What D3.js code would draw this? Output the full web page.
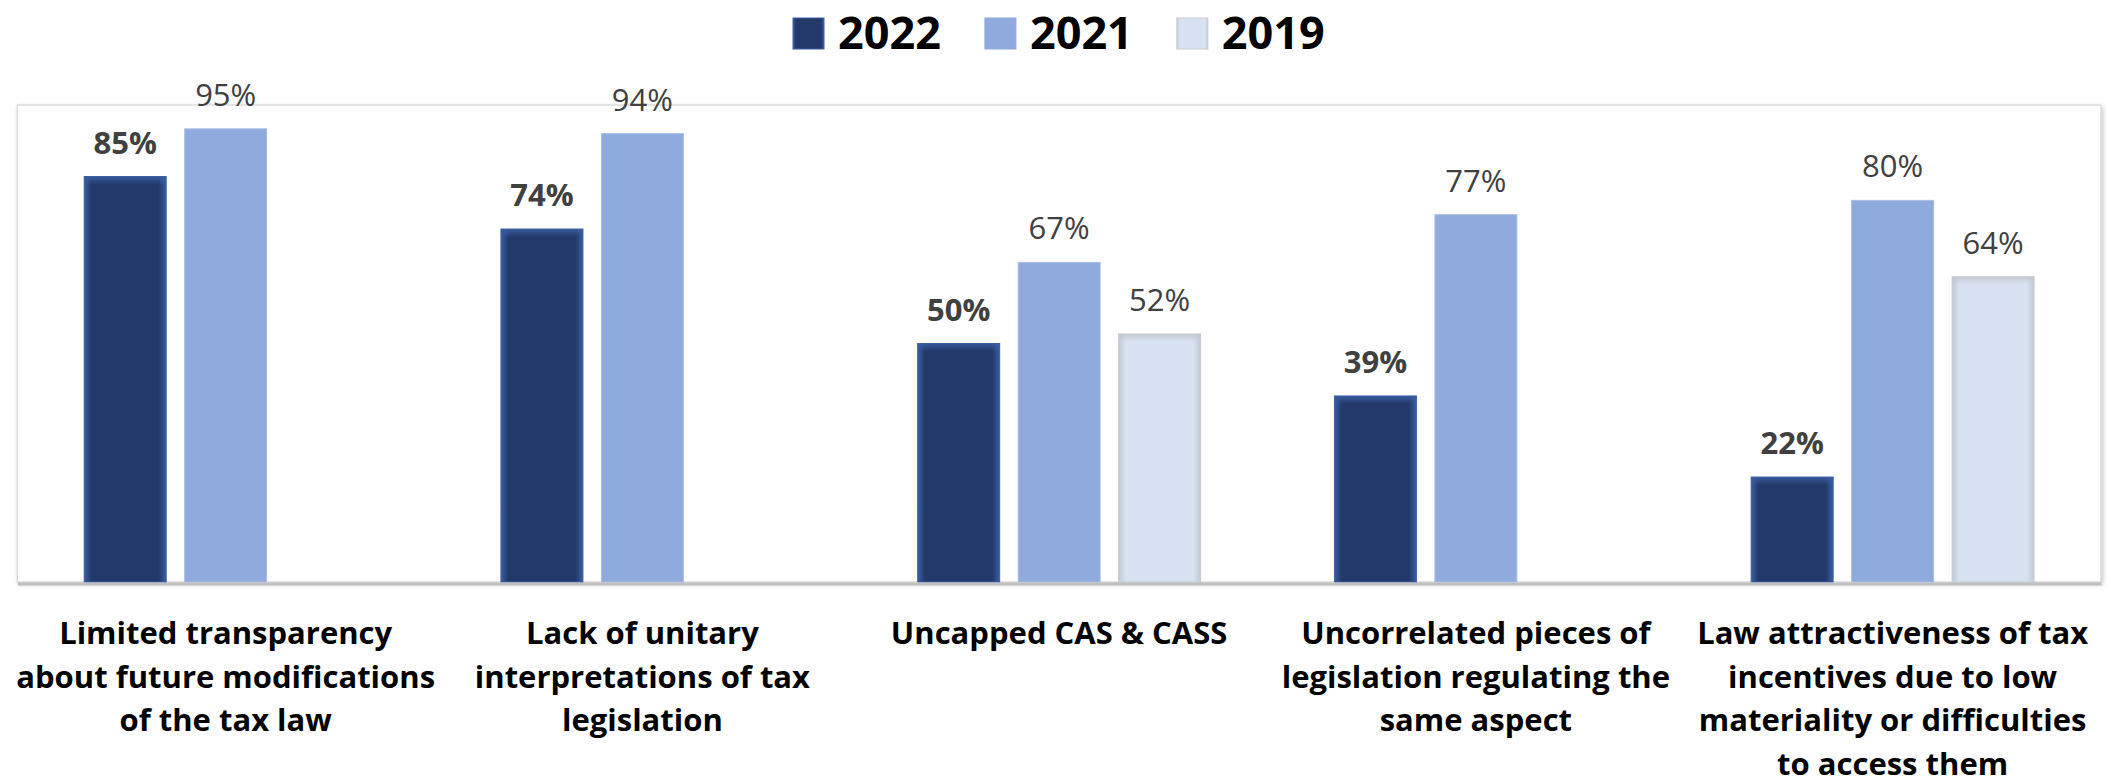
<!DOCTYPE html>
<html>
<head>
<meta charset="utf-8">
<script src="https://cdn.jsdelivr.net/npm/d3@7"></script>
<style>
  html, body { margin: 0; padding: 0; background: #ffffff; }
  svg { display: block; }
</style>
</head>
<body>
<div id="chart"></div>
<script>
// ---- Data ----
const categories = [
  "Limited transparency\nabout future modifications\nof the tax law",
  "Lack of unitary\ninterpretations of tax\nlegislation",
  "Uncapped CAS & CASS",
  "Uncorrelated pieces of\nlegislation regulating the\nsame aspect",
  "Law attractiveness of tax\nincentives due to low\nmateriality or difficulties\nto access them"
];
const seriesNames = ["2022", "2021", "2019"];
const values2022 = [85, 74, 50, 39, 22];
const values2021 = [95, 94, 67, 77, 80];
const values2019 = [null, null, 52, null, 64];
const yTicks = [0, 100];

// ---- Layout ----
const W = 2108, H = 784;
const plot = { left: 17.3, right: 2101, top: 105, bottom: 582 };

const svg = d3.select("#chart").append("svg").attr("width", W).attr("height", H);
const defs = svg.append("defs");

function hGrad(id, edge, mid) {
  const g = defs.append("linearGradient").attr("id", id).attr("x1", "0").attr("x2", "1").attr("y1", "0").attr("y2", "0");
  g.append("stop").attr("offset", "0%").attr("stop-color", edge);
  g.append("stop").attr("offset", "9%").attr("stop-color", mid);
  g.append("stop").attr("offset", "91%").attr("stop-color", mid);
  g.append("stop").attr("offset", "100%").attr("stop-color", edge);
}
function vGrad(id, edge) {
  const g = defs.append("linearGradient").attr("id", id).attr("x1", "0").attr("x2", "0").attr("y1", "0").attr("y2", "1");
  g.append("stop").attr("offset", "0%").attr("stop-color", edge).attr("stop-opacity", 0.9);
  g.append("stop").attr("offset", "100%").attr("stop-color", edge).attr("stop-opacity", 0);
}
hGrad("g2022", "#3a5ea3", "#22396a");
hGrad("g2019", "#c3c8d2", "#d9e2f2");
vGrad("t2022", "#3a5ea3");
vGrad("t2019", "#c3c8d2");

const shadow = defs.append("filter").attr("id", "shadow").attr("x", "-5%").attr("y", "-5%").attr("width", "110%").attr("height", "110%");
shadow.append("feDropShadow").attr("dx", 1.5).attr("dy", 2).attr("stdDeviation", 2).attr("flood-color", "#000").attr("flood-opacity", 0.22);

const fills = { "2022": "url(#g2022)", "2021": "#8faadc", "2019": "url(#g2019)" };
const topFills = { "2022": "url(#t2022)", "2021": null, "2019": "url(#t2019)" };

// ---- Scales ----
const x0 = d3.scaleBand().domain(d3.range(categories.length)).range([plot.left, plot.right]).padding(0);
const x1 = d3.scaleBand().domain(seriesNames).range([0, x0.bandwidth()]).paddingInner(0.184).paddingOuter(0.666);
const y = d3.scaleLinear().domain(d3.extent(yTicks)).range([plot.bottom, plot.top]);

// ---- Plot area frame ----
svg.append("rect")
  .attr("x", plot.left).attr("y", plot.top)
  .attr("width", plot.right - plot.left).attr("height", plot.bottom - plot.top)
  .attr("fill", "#ffffff").attr("stroke", "#d4d4d4").attr("stroke-width", 1.2)
  .attr("filter", "url(#shadow)");

// ---- Bars ----
const rows = [];
categories.forEach((c, i) => {
  [values2022, values2021, values2019].forEach((arr, k) => {
    if (arr[i] != null) rows.push({ ci: i, s: seriesNames[k], v: arr[i] });
  });
});

const barG = svg.append("g");
barG.selectAll("rect.bar").data(rows).join("rect")
  .attr("class", "bar")
  .attr("x", d => x0(d.ci) + x1(d.s))
  .attr("y", d => y(d.v))
  .attr("width", x1.bandwidth())
  .attr("height", d => y(0) - y(d.v))
  .attr("fill", d => fills[d.s])
  .attr("stroke", d => d.s === "2021" ? "#a9bde6" : (d.s === "2022" ? "#3b5fa5" : "#c8ccd4"))
  .attr("stroke-width", 1);

barG.selectAll("rect.topglow").data(rows.filter(d => topFills[d.s])).join("rect")
  .attr("class", "topglow")
  .attr("x", d => x0(d.ci) + x1(d.s))
  .attr("y", d => y(d.v))
  .attr("width", x1.bandwidth())
  .attr("height", 8)
  .attr("fill", d => topFills[d.s]);

// ---- Axis line (bottom) ----
const xAxis = d3.axisBottom(x0).tickSize(0).tickFormat("");
const axG = svg.append("g").attr("transform", `translate(0,${plot.bottom + 1.5})`).call(xAxis);
axG.select(".domain").attr("stroke", "#bfbfbf").attr("stroke-width", 3);

// ---- Value labels ----
svg.append("g").selectAll("text").data(rows).join("text")
  .attr("x", d => x0(d.ci) + x1(d.s) + x1.bandwidth() / 2)
  .attr("y", d => y(d.v) - 23)
  .attr("text-anchor", "middle")
  .attr("font-family", "'Open Sans', sans-serif")
  .attr("font-size", 31)
  .attr("font-weight", d => d.s === "2022" ? 700 : 400)
  .attr("fill", "#404040")
  .text(d => d.v + "%");

// ---- Category labels ----
const catG = svg.append("g");
categories.forEach((c, i) => {
  const t = catG.append("text")
    .attr("x", x0(i) + x0.bandwidth() / 2)
    .attr("y", 644)
    .attr("text-anchor", "middle")
    .attr("font-family", "'Open Sans', sans-serif")
    .attr("font-size", 31)
    .attr("font-weight", 700)
    .attr("fill", "#000000");
  c.split("\n").forEach((line, j) => {
    t.append("tspan").attr("x", x0(i) + x0.bandwidth() / 2).attr("y", 644 + j * 43.7).text(line);
  });
});

// ---- Legend ----
const legendFills = { "2022": "url(#g2022)", "2021": "#8faadc", "2019": "url(#g2019)" };
const lg = svg.append("g");
let lx = 793;
seriesNames.forEach(s => {
  lg.append("rect").attr("x", lx).attr("y", 18).attr("width", 31).attr("height", 31)
    .attr("fill", legendFills[s])
    .attr("stroke", s === "2022" ? "#3b5fa5" : (s === "2021" ? "#8faadc" : "#c8ccd4"));
  const tx = lg.append("text").attr("x", lx + 45).attr("y", 48.5)
    .attr("font-family", "'Open Sans', sans-serif")
    .attr("font-size", 45).attr("font-weight", 700).attr("fill", "#000")
    .text(s);
  const w = tx.node().getComputedTextLength();
  lx += 45 + w + 44;
});
</script>
</body>
</html>
